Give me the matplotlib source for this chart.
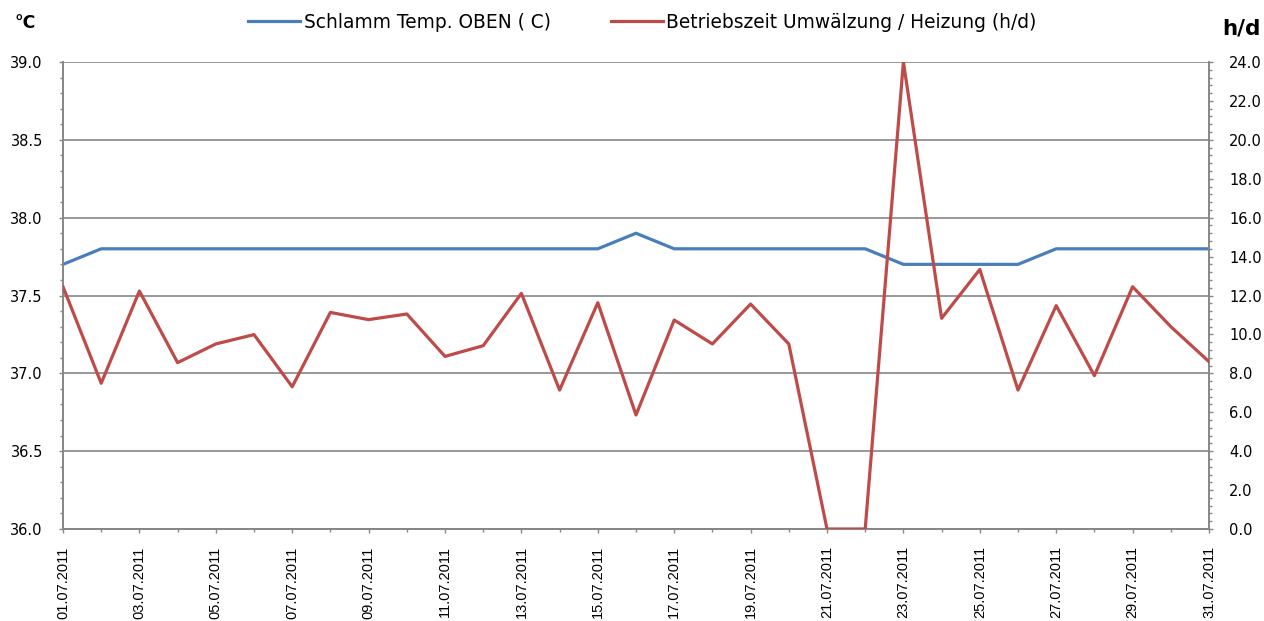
import matplotlib
matplotlib.use("Agg")
import matplotlib.pyplot as plt
from matplotlib.ticker import MultipleLocator, FixedLocator
import numpy as np

plt.rcParams['font.family'] = ['Liberation Sans', 'DejaVu Sans']

dates = [f"{d:02d}.07.2011" for d in range(1, 32)]
temp = [37.7, 37.8, 37.8, 37.8, 37.8, 37.8, 37.8, 37.8, 37.8, 37.8,
        37.8, 37.8, 37.8, 37.8, 37.8, 37.9, 37.8, 37.8, 37.8, 37.8,
        37.8, 37.8, 37.7, 37.7, 37.7, 37.7, 37.8, 37.8, 37.8, 37.8, 37.8]
hours = [12.45, 7.49, 12.23, 8.55, 9.51, 9.99, 7.31, 11.13, 10.76, 11.05,
         8.87, 9.42, 12.11, 7.14, 11.63, 5.86, 10.74, 9.51, 11.56, 9.51,
         0.0, 0.0, 24.0, 10.83, 13.34, 7.14, 11.48, 7.88, 12.45, 10.40, 8.60]

blue = '#4A7EBB'
red = '#BE4B48'
grey = '#868686'
wide = ['DejaVu Sans']

fig = plt.figure(figsize=(12.64, 6.21), dpi=100)
ax = fig.add_axes([63/1264, 1-529/621, (1209-63)/1264, (529-62)/621])
ax2 = ax.twinx()

x = np.arange(len(dates))
l1, = ax.plot(x, temp, color=blue, lw=2.3, label='Schlamm Temp. OBEN ( C)', zorder=3)
l2, = ax2.plot(x, hours, color=red, lw=2.3, label='Betriebszeit Umwälzung / Heizung (h/d)', zorder=3)

ax.set_xlim(0, len(dates)-1)
ax.set_ylim(36.0, 39.0)
ax2.set_ylim(0, 24)
ax.yaxis.set_major_locator(MultipleLocator(0.5))
ax.yaxis.set_minor_locator(MultipleLocator(0.1))
ax2.yaxis.set_major_locator(MultipleLocator(2.0))
ax2.yaxis.set_minor_locator(MultipleLocator(0.4))
ax.yaxis.set_major_formatter(plt.FuncFormatter(lambda v, p: f"{v:.1f}"))
ax2.yaxis.set_major_formatter(plt.FuncFormatter(lambda v, p: f"{v:.1f}"))

ax.set_xticks(x[::2])
ax.set_xticklabels(dates[::2], rotation=90)
ax.xaxis.set_minor_locator(FixedLocator(x))

ax.grid(axis='y', which='major', color=grey, lw=1.2)
ax.set_axisbelow(True)

for a in (ax, ax2):
    a.spines['top'].set_visible(False)
    for s in ['left', 'right', 'bottom']:
        a.spines[s].set_color(grey)
        a.spines[s].set_linewidth(1.2)
    a.tick_params(which='both', color=grey, labelcolor='black')
    a.tick_params(which='major', length=3, width=1)
    a.tick_params(which='minor', length=2.5, width=1)

ax.tick_params(axis='x', which='both', direction='out', pad=9.5, labelsize=10.5)
for a in (ax, ax2):
    a.tick_params(axis='y', which='both', direction='out', pad=11.5, labelsize=10.5)
for lab in ax.get_yticklabels() + ax2.get_yticklabels():
    lab.set_family(wide)

fig.text(15/1264, 1-22.5/621, '°C', fontsize=12.5, fontweight='bold', va='center', ha='left', family=wide)
fig.text(1222/1264, 1-29/621, 'h/d', fontsize=15.5, fontweight='bold', va='center', ha='left', family=wide)

fig.legend(handles=[l1, l2], loc='center', bbox_to_anchor=(642.5/1264, 1-22/621),
           ncol=2, frameon=False, prop={'family': wide, 'size': 13.4}, handlelength=2.8,
           handletextpad=0.2, columnspacing=3.2)

fig.savefig('out.png', dpi=100)
